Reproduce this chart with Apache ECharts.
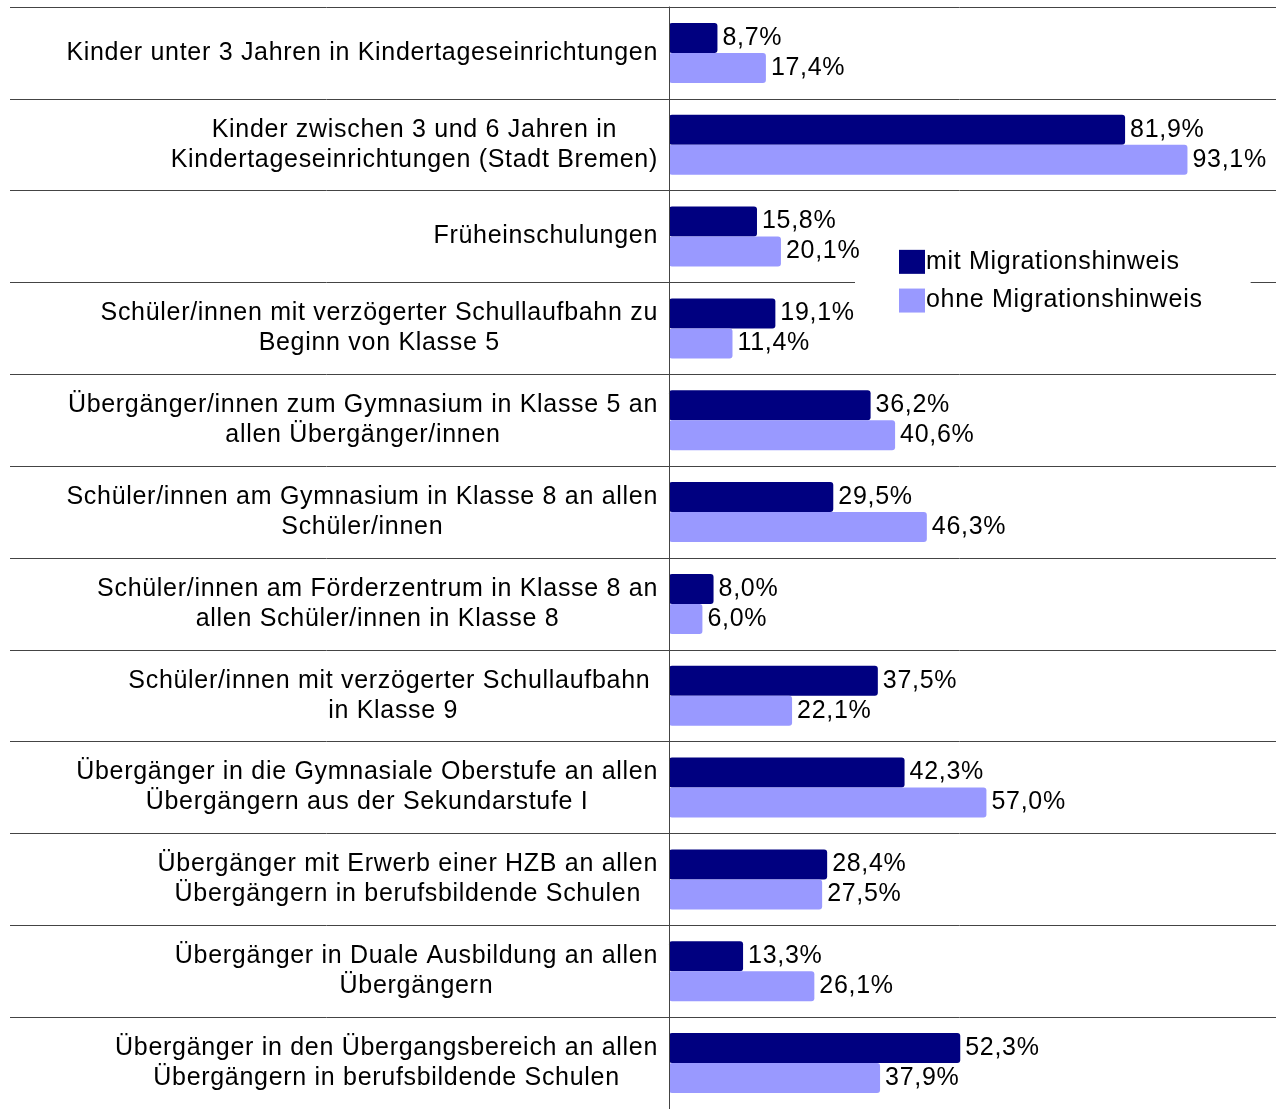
<!DOCTYPE html>
<html>
<head>
<meta charset="utf-8">
<script src="https://cdn.jsdelivr.net/npm/echarts@6/dist/echarts.min.js"></script>
<style>
  html, body { margin: 0; padding: 0; background: #fff; }
  #chart { width: 1286px; height: 1109px; }
</style>
</head>
<body>
<div id="chart"></div>
<script>
const categories = [
  "Kinder unter 3 Jahren in Kindertageseinrichtungen",
  "Kinder zwischen 3 und 6 Jahren in\nKindertageseinrichtungen (Stadt Bremen)",
  "Früheinschulungen",
  "Schüler/innen mit verzögerter Schullaufbahn zu\nBeginn von Klasse 5",
  "Übergänger/innen zum Gymnasium in Klasse 5 an\nallen Übergänger/innen",
  "Schüler/innen am Gymnasium in Klasse 8 an allen\nSchüler/innen",
  "Schüler/innen am Förderzentrum in Klasse 8 an\nallen Schüler/innen in Klasse 8",
  "Schüler/innen mit verzögerter Schullaufbahn \nin Klasse 9",
  "Übergänger in die Gymnasiale Oberstufe an allen\nÜbergängern aus der Sekundarstufe I",
  "Übergänger mit Erwerb einer HZB an allen\nÜbergängern in berufsbildende Schulen",
  "Übergänger in Duale Ausbildung an allen\nÜbergängern",
  "Übergänger in den Übergangsbereich an allen\nÜbergängern in berufsbildende Schulen"
];
const seriesNames = ["mit Migrationshinweis", "ohne Migrationshinweis"];
const mitValues = [8.7, 81.9, 15.8, 19.1, 36.2, 29.5, 8.0, 37.5, 42.3, 28.4, 13.3, 52.3];
const ohneValues = [17.4, 93.1, 20.1, 11.4, 40.6, 46.3, 6.0, 22.1, 57.0, 27.5, 26.1, 37.9];

// The reference renderer spaces letters slightly wider; apply a small letter spacing to canvas text.
(function () {
  const proto = CanvasRenderingContext2D.prototype;
  const desc = Object.getOwnPropertyDescriptor(proto, 'font');
  if (desc && desc.set && ('letterSpacing' in proto)) {
    Object.defineProperty(proto, 'font', {
      configurable: true,
      get() { return desc.get.call(this); },
      set(v) { desc.set.call(this, v); this.letterSpacing = '0.7px'; }
    });
  }
})();

const FONT = "'Liberation Sans', Arial, sans-serif";
const FS = 25;
const fmtPct = p => p.value.toFixed(1).replace('.', ',') + '%';

const chart = echarts.init(document.getElementById('chart'), null, { renderer: 'canvas' });
chart.setOption({
  backgroundColor: '#fff',
  animation: false,
  textStyle: { fontFamily: FONT, color: '#000' },
  legend: {
    data: seriesNames,
    orient: 'vertical',
    left: 855,
    top: 239,
    icon: 'rect',
    itemWidth: 26,
    itemHeight: 24,
    itemGap: 13,
    backgroundColor: '#fff',
    padding: [10, 48, 10, 44],
    z: 1,
    textStyle: { fontFamily: FONT, fontSize: FS, color: '#000', padding: [0, 0, 0, -4] }
  },
  grid: [
    { left: 669, right: 10, top: 7, bottom: -2, containLabel: false },
    { left: 10, right: 10, top: 7, bottom: -2, containLabel: false }
  ],
  xAxis: [
    { type: 'value', gridIndex: 0, min: 0, max: 109, show: false },
    { type: 'value', gridIndex: 1, min: 0, max: 1, show: false }
  ],
  yAxis: [
    {
      type: 'category', gridIndex: 0, data: categories, inverse: true,
      axisLine: { show: true, lineStyle: { color: '#444', width: 1 } },
      axisTick: { show: false },
      splitLine: { show: false },
      z: 5,
      axisLabel: {
        margin: 11,
        align: 'right',
        color: '#000',
        fontFamily: FONT,
        fontSize: FS,
        lineHeight: 30,
        formatter: v => v.split('\n').map(l => '{c|' + l + '}').join('\n'),
        rich: { c: { align: 'center', fontFamily: FONT, fontSize: FS, lineHeight: 30, color: '#000' } }
      }
    },
    {
      type: 'category', gridIndex: 1, data: categories, inverse: true,
      axisLine: { show: false }, axisTick: { show: false }, axisLabel: { show: false },
      splitLine: { show: true, lineStyle: { color: '#444', width: 1 } }
    }
  ],
  series: [
    {
      name: seriesNames[0], type: 'bar', xAxisIndex: 0, yAxisIndex: 0,
      data: mitValues, barWidth: 30, barGap: '0%', z: 3,
      itemStyle: { color: '#000080', borderRadius: 3 },
      label: { show: true, position: 'right', distance: 5, formatter: fmtPct,
               fontFamily: FONT, fontSize: FS, color: '#000' }
    },
    {
      name: seriesNames[1], type: 'bar', xAxisIndex: 0, yAxisIndex: 0,
      data: ohneValues, barWidth: 30, barGap: '0%', z: 3,
      itemStyle: { color: '#9999ff', borderRadius: 3 },
      label: { show: true, position: 'right', distance: 5, formatter: fmtPct,
               fontFamily: FONT, fontSize: FS, color: '#000' }
    }
  ]
});
</script>
</body>
</html>
